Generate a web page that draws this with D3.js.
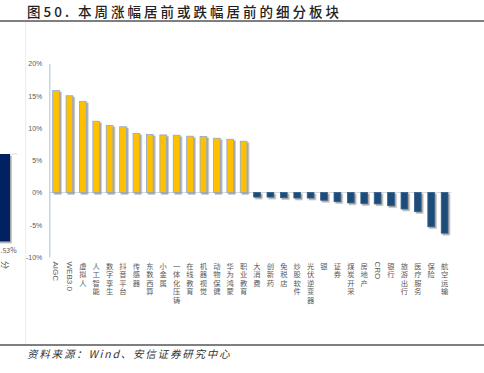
<!DOCTYPE html>
<html><head><meta charset="utf-8">
<script src="https://cdn.jsdelivr.net/npm/d3@7/dist/d3.min.js"></script>
<style>
html,body{margin:0;padding:0;background:#fff;}
svg{display:block;font-family:"Noto Sans CJK SC","Noto Sans",sans-serif;}
</style></head><body>
<svg id="c" width="484" height="373"></svg>
<script>
const categories = ["AIGC","WEB3.0","虚拟人","人工智能","数字孪生","抖音平台","传感器","东数西算","小金属","一体化压铸","在线教育","机器视觉","动物保健","华为鸿蒙","职业教育",
  "大消费","创新药","免税店","炒股软件","光伏逆变器","银","证券","煤炭开采","房地产","CRO","银行","旅游出行","医疗服务","保险","航空运输"];
const values = [15.8,15.0,14.1,11.05,10.4,10.2,9.15,9.0,8.93,8.88,8.73,8.68,8.42,8.26,7.95,
  -0.7,-0.7,-0.8,-0.85,-0.85,-1.2,-1.4,-1.6,-1.7,-1.75,-2.05,-2.55,-2.95,-5.3,-6.3];
const yTicks = [-10,-5,0,5,10,15,20];
const title = "图50. 本周涨幅居前或跌幅居前的细分板块";
const source = "资料来源：Wind、安信证券研究中心";

const svg = d3.select("#c");
const defs = svg.append("defs");
const f = defs.append("filter").attr("id","sh").attr("x","-50%").attr("y","-50%").attr("width","200%").attr("height","200%");
f.append("feDropShadow").attr("dx",1.6).attr("dy",1.6).attr("stdDeviation",0.7).attr("flood-color","#7f7f7f").attr("flood-opacity",0.7);

// title
svg.append("text").attr("x",27).attr("y",16.5).attr("font-size",13.5).attr("font-weight",500)
  .attr("letter-spacing",3.0).attr("fill","#222").text(title);
svg.append("line").attr("x1",0).attr("x2",484).attr("y1",21).attr("y2",21).attr("stroke","#555").attr("stroke-width",1.5);
// frame edge
svg.append("line").attr("x1",25.7).attr("x2",25.7).attr("y1",22).attr("y2",344).attr("stroke","#ececec").attr("stroke-width",1);

// left fragment of neighbouring chart
svg.append("rect").attr("x",-5).attr("y",154).attr("width",15).attr("height",87.5).attr("fill","#002060").attr("filter","url(#sh)");
svg.append("line").attr("x1",10).attr("x2",17).attr("y1",154).attr("y2",154).attr("stroke","#d9d9d9");
svg.append("text").attr("x",0.5).attr("y",253).attr("font-size",7).attr("fill","#595959").text(".53%");
svg.append("text").attr("transform","translate(1.5,261) rotate(90)").attr("font-size",8).attr("fill","#595959").text("分");

const x = d3.scaleBand().domain(categories).range([49.3,451.3]).paddingInner(0.5).paddingOuter(0.25);
const y = d3.scaleLinear().domain([-10,20]).range([257,63.5]);

// zero line
svg.append("line").attr("x1",49.3).attr("x2",451.5).attr("y1",y(0)).attr("y2",y(0)).attr("stroke","#d9d9d9").attr("stroke-width",1);

// y axis
const ax = d3.axisLeft(y).tickValues(yTicks).tickSize(0).tickPadding(7).tickFormat(d=>d+"%");
const g = svg.append("g").attr("transform","translate(49.3,0)").call(ax);
g.select(".domain").attr("stroke","#9dc3e6").attr("stroke-width",1);
g.selectAll("text").attr("font-size",7).attr("fill","#595959").attr("font-family","Liberation Sans, Arial, sans-serif");

// bars
svg.append("g").selectAll("rect").data(categories).join("rect")
  .attr("x",d=>x(d)).attr("width",x.bandwidth())
  .attr("y",(d,i)=>values[i]>=0?y(values[i]):y(0))
  .attr("height",(d,i)=>Math.abs(y(values[i])-y(0)))
  .attr("fill",(d,i)=>values[i]>=0?"#ffc000":"#1f4e79")
  .attr("stroke",(d,i)=>values[i]>=0?"#8eaacc":"#2e5d8c")
  .attr("stroke-width",0.8)
  .attr("filter","url(#sh)");

// category labels (vertical: CJK stacked upright, Latin rotated)
const lab = svg.append("g");
const labFs = 7.3, labPitch = 8.5, labTop = 261.5;
categories.forEach(c => {
  const cx = x(c) + x.bandwidth()/2;
  if (/^[\x00-\x7F]+$/.test(c)) {
    lab.append("text").attr("transform",`translate(${cx},${labTop}) rotate(90)`)
      .attr("dy","0.35em").attr("font-size",8).attr("fill","#595959")
      .attr("font-family","Liberation Sans, Arial, sans-serif").text(c);
  } else {
    const t = lab.append("text").attr("font-size",labFs).attr("fill","#595959").attr("text-anchor","middle");
    Array.from(c).forEach((ch,k) => {
      t.append("tspan").attr("x",cx).attr("y",labTop + 7 + k*labPitch).text(ch);
    });
  }
});

// bottom line and source
svg.append("line").attr("x1",0).attr("x2",484).attr("y1",345).attr("y2",345).attr("stroke","#555").attr("stroke-width",1.5);
svg.append("text").attr("x",27).attr("y",357.5).attr("font-size",10.5).attr("font-style","italic")
  .attr("letter-spacing",1.8).attr("fill","#333").text(source);
</script>
</body></html>
